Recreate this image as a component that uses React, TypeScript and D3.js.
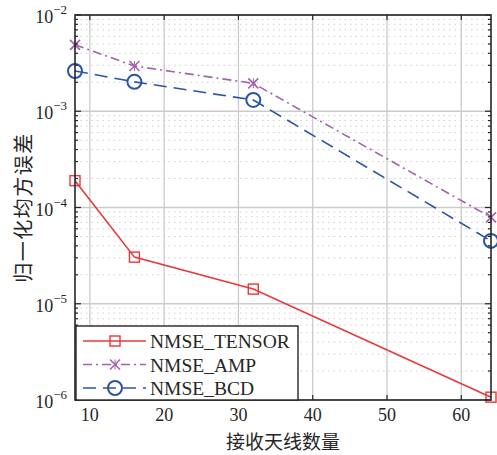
import * as d3 from 'd3';

const antennas = [8, 16, 32, 64];
const nmseTensor = [1.9e-4, 3.05e-5, 1.42e-5, 1.07e-6];
const nmseAmp = [4.9e-3, 2.95e-3, 1.95e-3, 7.9e-5];
const nmseBcd = [2.62e-3, 2.02e-3, 1.31e-3, 4.5e-5];
const xTicks = [10, 20, 30, 40, 50, 60];
const yDecades = [-6, -5, -4, -3, -2];

const W = 497, H = 455;
const margin = { left: 75, right: 6, top: 15, bottom: 55 };
const serif = 'Liberation Serif, DejaVu Serif, serif';
const cjk = 'Noto Sans CJK SC, sans-serif';

const series = [
  { name: 'NMSE_TENSOR', values: nmseTensor, color: '#e8383a', dash: 'none', marker: 'square' },
  { name: 'NMSE_AMP', values: nmseAmp, color: '#a462ad', dash: '9,4,2,4', marker: 'x' },
  { name: 'NMSE_BCD', values: nmseBcd, color: '#2a55a6', dash: '13,7', marker: 'circle' },
];

function Marker({ type, x, y, color }: { type: string; x: number; y: number; color: string }) {
  if (type === 'square') return <rect x={x - 5} y={y - 5} width={10} height={10} fill="none" stroke={color} strokeWidth={1.4} />;
  if (type === 'circle') return <circle cx={x} cy={y} r={7} fill="none" stroke={color} strokeWidth={2} />;
  return (
    <g stroke={color} strokeWidth={1.6}>
      <line x1={x - 5} y1={y - 5} x2={x + 5} y2={y + 5} />
      <line x1={x - 5} y1={y + 5} x2={x + 5} y2={y - 5} />
      <line x1={x} y1={y - 5} x2={x} y2={y + 5} strokeWidth={1} />
    </g>
  );
}

export default function App() {
  const x = d3.scaleLinear().domain([8, 64]).range([margin.left, W - margin.right]);
  const y = d3.scaleLog().domain([1e-6, 1e-2]).range([H - margin.bottom, margin.top]);
  const [x0, x1] = x.range();
  const [y0, y1] = y.range();

  const minor: number[] = [];
  yDecades.slice(0, -1).forEach(e => {
    for (let k = 2; k <= 9; k++) minor.push(k * Math.pow(10, e));
  });

  const line = d3.line<number>()
    .x((_, i) => x(antennas[i]))
    .y(d => y(d));

  const legX = 76, legY = 326, legW = 222, legH = y0 - 326;

  return (
    <svg width={W} height={H} style={{ position: 'absolute', left: 0, top: 0, background: '#fff' }}>
      <rect x={0} y={0} width={W} height={H} fill="#fff" />
      {/* minor grid */}
      {minor.map(v => (
        <line key={'m' + v} x1={x0} x2={x1} y1={y(v)} y2={y(v)} stroke="#cfcfcf" strokeWidth={1} strokeDasharray="1.5,4" />
      ))}
      {/* major grid */}
      {xTicks.map(t => (
        <line key={'gx' + t} x1={x(t)} x2={x(t)} y1={y0} y2={y1} stroke="#cbcbcb" strokeWidth={1.3} />
      ))}
      {yDecades.map(e => (
        <line key={'gy' + e} x1={x0} x2={x1} y1={y(Math.pow(10, e))} y2={y(Math.pow(10, e))} stroke="#cbcbcb" strokeWidth={1.3} />
      ))}
      {/* series */}
      {series.map(s => (
        <g key={s.name}>
          <path d={line(s.values) || ''} fill="none" stroke={s.color} strokeWidth={1.6} strokeDasharray={s.dash} />
          {s.values.map((v, i) => (
            <Marker key={i} type={s.marker} x={x(antennas[i])} y={y(v)} color={s.color} />
          ))}
        </g>
      ))}
      {/* ticks */}
      {xTicks.map(t => (
        <g key={'tx' + t}>
          <line x1={x(t)} x2={x(t)} y1={y0} y2={y0 - 5} stroke="#262626" strokeWidth={1.2} />
          <line x1={x(t)} x2={x(t)} y1={y1} y2={y1 + 5} stroke="#262626" strokeWidth={1.2} />
          <text x={x(t)} y={y0 + 21} textAnchor="middle" style={{ fontFamily: serif }} fontSize={18} fill="#262626">{t}</text>
        </g>
      ))}
      {minor.map(v => (
        <g key={'mt' + v}>
          <line x1={x0} x2={x0 + 3} y1={y(v)} y2={y(v)} stroke="#262626" strokeWidth={1.2} />
          <line x1={x1} x2={x1 - 3} y1={y(v)} y2={y(v)} stroke="#262626" strokeWidth={1.2} />
        </g>
      ))}
      {yDecades.map(e => (
        <g key={'ty' + e}>
          <line x1={x0} x2={x0 + 6} y1={y(Math.pow(10, e))} y2={y(Math.pow(10, e))} stroke="#262626" strokeWidth={1.2} />
          <line x1={x1} x2={x1 - 6} y1={y(Math.pow(10, e))} y2={y(Math.pow(10, e))} stroke="#262626" strokeWidth={1.2} />
          <text x={x0 - 8} y={y(Math.pow(10, e)) + 8} textAnchor="end" style={{ fontFamily: serif }} fontSize={18} fill="#262626">
            10<tspan dy={-9} fontSize={13}>{'\u2212' + Math.abs(e)}</tspan>
          </text>
        </g>
      ))}
      {/* frame */}
      <rect x={x0} y={y1} width={x1 - x0} height={y0 - y1} fill="none" stroke="#262626" strokeWidth={1.6} />
      {/* legend */}
      <rect x={legX} y={legY} width={legW} height={legH} fill="#fff" stroke="#262626" strokeWidth={1.4} />
      {series.map((s, i) => {
        const ly = legY + 15 + i * 23.5;
        return (
          <g key={'leg' + s.name}>
            <line x1={legX + 7} x2={legX + 70} y1={ly} y2={ly} stroke={s.color} strokeWidth={1.6} strokeDasharray={s.dash} />
            <Marker type={s.marker} x={legX + 39} y={ly} color={s.color} />
            <text x={legX + 74} y={ly + 7} style={{ fontFamily: serif }} fontSize={19.5} fill="#262626">{s.name}</text>
          </g>
        );
      })}
      {/* axis labels */}
      <text x={(x0 + x1) / 2} y={449} textAnchor="middle" style={{ fontFamily: cjk }} fontSize={19} fill="#262626">接收天线数量</text>
      <text transform={`translate(31,${(y0 + y1) / 2}) rotate(-90)`} textAnchor="middle" style={{ fontFamily: cjk }} fontSize={20} letterSpacing={1.5} fill="#262626">归一化均方误差</text>
    </svg>
  );
}
